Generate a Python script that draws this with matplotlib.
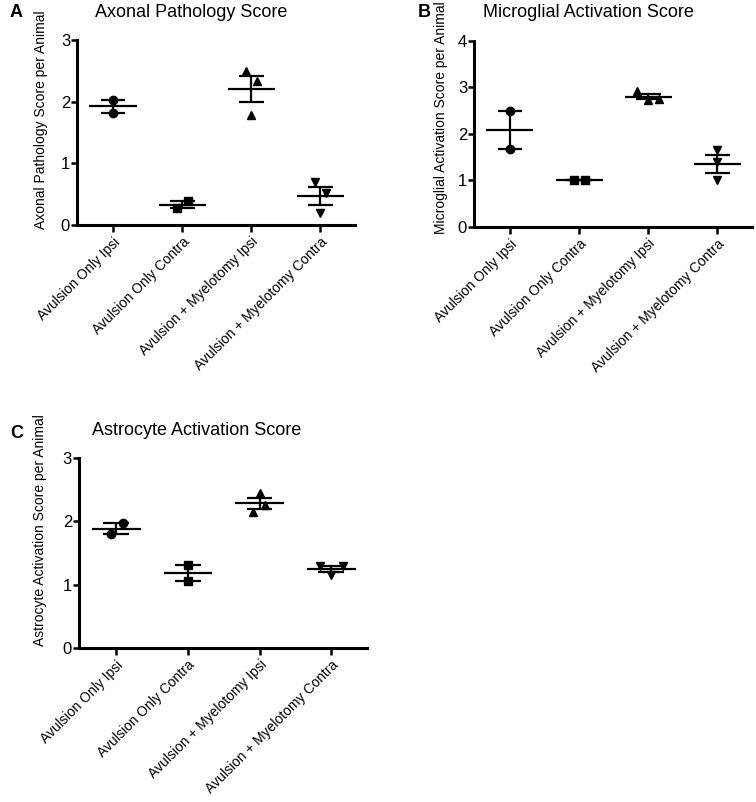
"""
Scatter plots of per-animal pathology scores (mean +/- SEM) for three stains.
"""

import numpy as np
import matplotlib
matplotlib.use("Agg")
import matplotlib.pyplot as plt

plt.rcParams["font.family"] = ["Liberation Sans", "DejaVu Sans"]

groups = [
    "Avulsion Only Ipsi",
    "Avulsion Only Contra",
    "Avulsion + Myelotomy Ipsi",
    "Avulsion + Myelotomy Contra",
]
markers = ["o", "s", "^", "v"]

# per-animal scores, one list per group
axonal = [[2.03, 1.82], [0.27, 0.39], [2.49, 2.34, 1.78], [0.69, 0.52, 0.19]]
microglial = [[2.50, 1.67], [1.00, 1.00], [2.92, 2.74, 2.75], [1.65, 1.40, 1.00]]
astrocyte = [[1.80, 1.97], [1.31, 1.06], [2.45, 2.26, 2.14], [1.30, 1.30, 1.16]]

# horizontal jitter of the points inside each group
jitter_a = [[0.0, 0.0], [-0.08, 0.08], [-0.07, 0.08, 0.0], [-0.08, 0.08, 0.0]]
jitter_b = [[0.0, 0.0], [-0.08, 0.08], [-0.16, 0.0, 0.16], [0.0, 0.0, 0.0]]
jitter_c = [[-0.08, 0.09], [0.0, 0.0], [0.0, 0.08, -0.09], [-0.16, 0.16, 0.0]]


def score_panel(ax, data, jitter, ymax, title, ylabel, title_y, label_xy):
    for i, vals in enumerate(data):
        vals = np.asarray(vals)
        mean = vals.mean()
        sem = vals.std(ddof=1) / np.sqrt(len(vals))
        ax.plot(i + np.asarray(jitter[i]), vals, ls="none", marker=markers[i],
                ms=6, color="black", clip_on=False, zorder=3)
        ax.hlines(mean, i - 0.34, i + 0.34, color="black", lw=1.6)
        ax.hlines([mean - sem, mean + sem], i - 0.18, i + 0.18, color="black", lw=1.6)
        ax.vlines(i, mean - sem, mean + sem, color="black", lw=1.6)

    ax.set_xlim(-0.52, 3.5)
    ax.set_ylim(0, ymax)
    ax.set_yticks(range(ymax + 1))
    ax.set_xticks(range(len(groups)))
    ax.set_xticklabels(groups, rotation=45, ha="right", rotation_mode="anchor",
                       fontsize=10)
    ax.tick_params(axis="y", labelsize=12, length=4, width=1.8, pad=1)
    ax.tick_params(axis="x", length=5, width=1.8, pad=2)
    for side in ["top", "right"]:
        ax.spines[side].set_visible(False)
    for side in ["left", "bottom"]:
        ax.spines[side].set_linewidth(2.2)

    ax.set_ylabel(ylabel, fontsize=10)
    ax.yaxis.set_label_coords(*label_xy)
    ax.text(0.41, title_y, title, transform=ax.transAxes, ha="center",
            va="center", fontsize=13)


fig = plt.figure(figsize=(7.56, 8.02), dpi=100)
ax_a = fig.add_axes([0.1019, 0.7195, 0.3677, 0.2307])
ax_b = fig.add_axes([0.627, 0.717, 0.3677, 0.232])
ax_c = fig.add_axes([0.1045, 0.192, 0.381, 0.237])

score_panel(ax_a, axonal, jitter_a, 3, "Axonal Pathology Score",
            "Axonal Pathology Score per Animal", 1.15, (-0.105, 0.57))
score_panel(ax_b, microglial, jitter_b, 4, "Microglial Activation Score",
            "Microglial Activation Score per Animal", 1.155, (-0.092, 0.59))
score_panel(ax_c, astrocyte, jitter_c, 3, "Astrocyte Activation Score",
            "Astrocyte Activation Score per Animal", 1.145, (-0.11, 0.62))

fig.text(0.013, 0.984, "A", fontsize=13, fontweight="bold", va="center")
fig.text(0.552, 0.984, "B", fontsize=13, fontweight="bold", va="center")
fig.text(0.013, 0.46, "C", fontsize=13, fontweight="bold", va="center")

fig.savefig("out.png", dpi=100)
